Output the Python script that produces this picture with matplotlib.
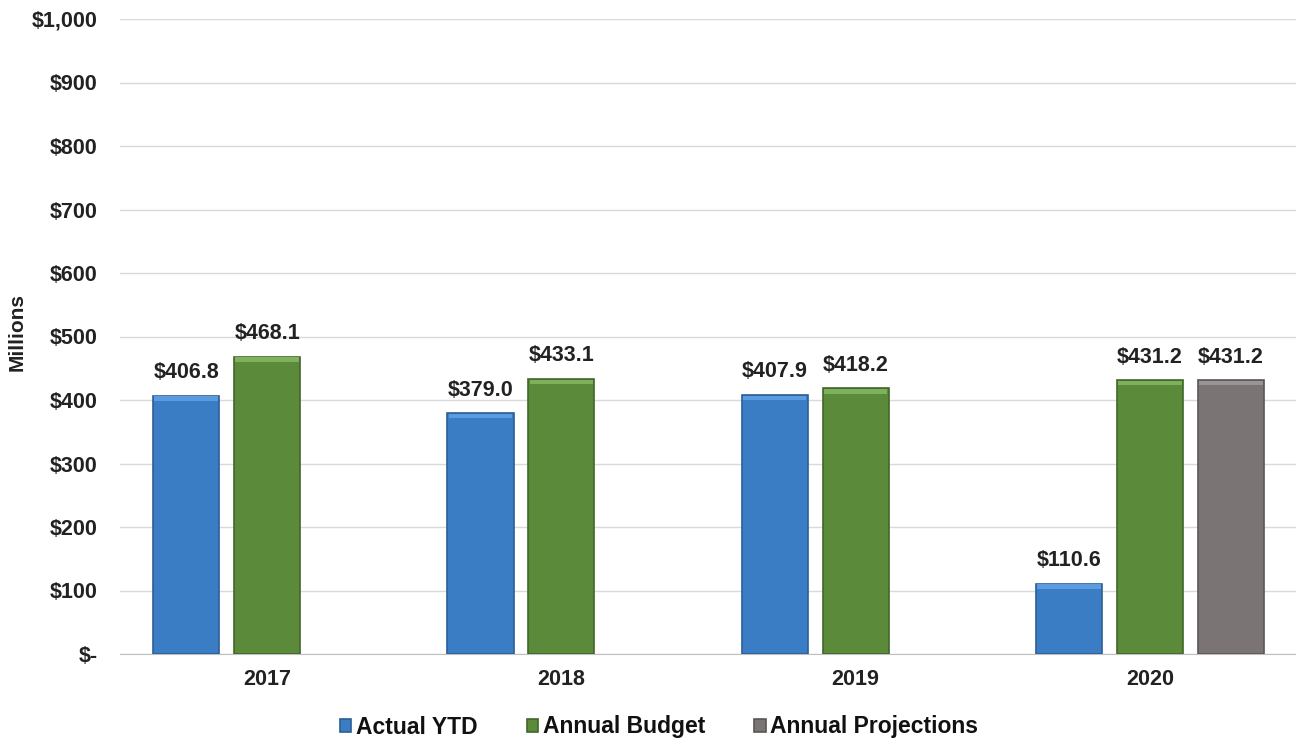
import matplotlib
matplotlib.use("Agg")
import matplotlib.pyplot as plt
import numpy as np
from matplotlib.ticker import FuncFormatter

plt.rcParams['font.family'] = ['Liberation Sans', 'DejaVu Sans']
plt.rcParams['font.weight'] = 'bold'

years = ["2017", "2018", "2019", "2020"]
actual_ytd = [406.8, 379.0, 407.9, 110.6]
annual_budget = [468.1, 433.1, 418.2, 431.2]
annual_proj = [None, None, None, 431.2]

series = [
    ("Actual YTD", actual_ytd, "#3A7DC4", "#2B5F96", "#5C9BE0"),
    ("Annual Budget", annual_budget, "#5B8A3A", "#41672A", "#7FB05C"),
    ("Annual Projections", annual_proj, "#7A7574", "#5A5655", "#9A9594"),
]

fig = plt.figure(figsize=(12.96, 7.42), dpi=100)
ax = fig.add_axes([120/1296, 1-654/742, 1177/1296, 635/742])

x = np.arange(len(years))
width = 0.225
offset = 0.275
bevel = 7.0
handles = []
for i, (name, vals, col, edge, light) in enumerate(series):
    xs = [xx + (i-1)*offset for xx, v in zip(x, vals) if v is not None]
    vs = [v for v in vals if v is not None]
    bars = ax.bar(xs, vs, width, color=col, edgecolor=edge, linewidth=1.2, zorder=3, label=name)
    ax.bar(xs, [bevel]*len(vs), width*0.96, bottom=[v - bevel - 1 for v in vs],
           color=light, edgecolor='none', zorder=3.5)
    handles.append(bars)
    for xx, v in zip(xs, vs):
        ax.annotate(f"${v:,.1f}", (xx, v), xytext=(0, 9), textcoords='offset points',
                    ha='center', va='bottom', fontsize=15.5,
                    fontweight='bold', color='#222222', zorder=4)

ax.set_ylim(0, 1000)
ax.set_xlim(-0.5, 3.5)
ax.set_yticks(np.arange(0, 1001, 100))
ax.yaxis.set_major_formatter(FuncFormatter(lambda v, p: "$-" if v == 0 else f"${v:,.0f}"))
ax.set_xticks(x)
ax.set_xticklabels(years)
ax.tick_params(axis='both', length=0, labelsize=15.5, colors='#222222')
ax.tick_params(axis='y', pad=16)
ax.tick_params(axis='x', pad=11)
for lab in ax.get_xticklabels() + ax.get_yticklabels():
    lab.set_fontweight('bold')
ax.grid(axis='y', color='#D9D9D9', linewidth=1, zorder=0)
for s in ['top', 'right', 'left']:
    ax.spines[s].set_visible(False)
ax.spines['bottom'].set_color('#BFBFBF')
ax.set_ylabel("Millions", fontsize=15, fontweight='bold', color='#222222')
ax.yaxis.set_label_coords(-(120-27)/1177, (654-332)/635)

leg = fig.legend(handles=handles, loc='center', bbox_to_anchor=(659/1296, 1-727/742), ncol=3,
                 frameon=False, fontsize=16.5, handlelength=0.5, handleheight=0.5,
                 handletextpad=0.2, columnspacing=2.15)
for t in leg.get_texts():
    t.set_fontweight('bold')
    t.set_color('#111111')

fig.savefig("out.png", dpi=100)
